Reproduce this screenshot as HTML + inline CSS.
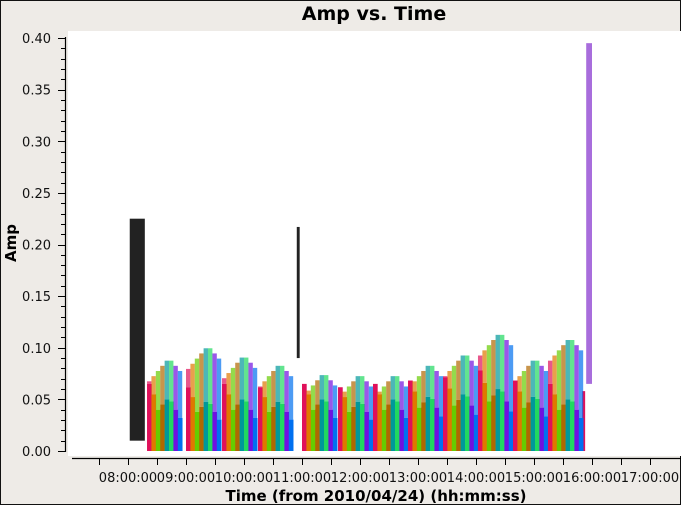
<!DOCTYPE html>
<html><head><meta charset="utf-8"><style>
html,body{margin:0;padding:0;background:#eeebe7;}
svg{display:block;font-family:"DejaVu Sans","Liberation Sans",sans-serif;}
</style></head><body>
<svg id="chart" width="681" height="505" viewBox="0 0 681 505">
<rect x="0.5" y="0.5" width="680" height="504" fill="#eeebe7" stroke="#111"/>
<rect x="68" y="31" width="613" height="425" fill="#fff"/>
<text x="374" y="20" font-size="19" font-weight="bold" text-anchor="middle" fill="#000">Amp vs. Time</text>
<text x="376" y="501" font-size="15" font-weight="bold" text-anchor="middle" fill="#000">Time (from 2010/04/24) (hh:mm:ss)</text>
<text transform="translate(16,243) rotate(-90)" font-size="15" font-weight="bold" text-anchor="middle" fill="#000">Amp</text>
<g id="marks"></g>
<g id="axes"></g>
</svg>
<script>
// ---- data ----
const groupStarts = [8.328, 9.0, 9.621, 10.241, 11.0, 11.621, 12.224, 12.828, 13.431, 14.034, 14.638, 15.241];
const colors = ["#e0105a","#e07800","#66cc00","#b06800","#00989a","#20d860","#7010e0","#0070f0"];
const baseAmp = [0.065,0.055,0.040,0.045,0.050,0.048,0.040,0.032];
const groupScale = [1.0,0.95,1.0,0.95,1.0,0.95,1.0,1.05,1.1,1.2,1.05,1.0];
const groupMax = [0.09,0.102,0.093,0.085,0.076,0.075,0.075,0.085,0.095,0.115,0.09,0.11];
const yTicks = [0.00,0.05,0.10,0.15,0.20,0.25,0.30,0.35,0.40];
const xHours = [8,9,10,11,12,13,14,15,16,17];
const blackBlock = {t0:8.03, t1:8.29, lo:0.01, hi:0.225};
const blackSpike = {t0:10.91, t1:10.96, lo:0.09, hi:0.217};
const purpleSpike = {t0:15.9, t1:16.0, lo:0.065, hi:0.395};
const lastRed = {t:15.83, hi:0.058};

// ---- scales ----
const X = h => 128 + (h - 8) * 58;
const Y = v => 451 - v * (413 / 0.40);
const NS = "http://www.w3.org/2000/svg";
const marks = document.getElementById('marks');
const axes = document.getElementById('axes');
function mk(tag, attrs, parent){const e=document.createElementNS(NS,tag);for(const k in attrs)e.setAttribute(k,attrs[k]);parent.appendChild(e);return e;}

let r = mk('rect',{x:X(blackBlock.t0),y:Y(blackBlock.hi),width:X(blackBlock.t1)-X(blackBlock.t0),height:Y(blackBlock.lo)-Y(blackBlock.hi),fill:"#222"},marks);


r = mk('rect',{x:X(blackSpike.t0),y:Y(blackSpike.hi),width:X(blackSpike.t1)-X(blackSpike.t0),height:Y(blackSpike.lo)-Y(blackSpike.hi),fill:"#222"},marks);


r = mk('rect',{x:X(purpleSpike.t0),y:Y(purpleSpike.hi),width:X(purpleSpike.t1)-X(purpleSpike.t0),height:Y(purpleSpike.lo)-Y(purpleSpike.hi),fill:"#a86ddc"},marks);


r = mk('rect',{x:X(lastRed.t),y:Y(lastRed.hi),width:3,height:Y(0)-Y(lastRed.hi),fill:colors[0]},marks);



const bw = 4.4/58;
groupStarts.forEach((t,g)=>{
  colors.forEach((c,i)=>{
    const t0 = t + i*bw;
    const v = baseAmp[i]*groupScale[g];
    const top = Math.max(v, groupMax[g] - Math.abs(i-4.5)*0.005);
    const s = mk('rect',{x:X(t0),y:Y(top),width:X(t0+bw)-X(t0),height:Y(v)-Y(top),fill:c,opacity:0.7},marks);
    
    
    const b = mk('rect',{x:X(t0),y:Y(v),width:X(t0+bw)-X(t0)+0.3,height:Y(0)-Y(v),fill:c},marks);
    
    
  });
});

let l = mk('line',{x1:65.5,y1:37,x2:65.5,y2:452,stroke:"#000","stroke-width":1.2},axes);


for(let k=0;k<=40;k++){
  const y = Math.round(Y(k*0.01))+0.5;
  const t = mk('line',{x1:k%5===0?58:61,y1:y,x2:65,y2:y,stroke:"#000"},axes);
  
  
}
yTicks.forEach(v=>{
  const t = mk('text',{x:51,y:Y(v)+5,"font-size":13,"text-anchor":"end",fill:"#111"},axes);
  t.textContent = v.toFixed(2);
  
  
});
l = mk('line',{x1:72,y1:458.5,x2:681,y2:458.5,stroke:"#000","stroke-width":1.2},axes);


for(let h=7.5;h<=17;h+=0.5){
  const x = Math.round(X(h))+0.5;
  const t = mk('line',{x1:x,y1:458,x2:x,y2:465,stroke:"#000"},axes);
  
  
}
xHours.forEach(h=>{
  const t = mk('text',{x:X(h),y:482,"font-size":13,"text-anchor":"middle",fill:"#111"},axes);
  t.textContent = String(h).padStart(2,'0')+":00:00";
  
  
});
</script>
</body></html>
